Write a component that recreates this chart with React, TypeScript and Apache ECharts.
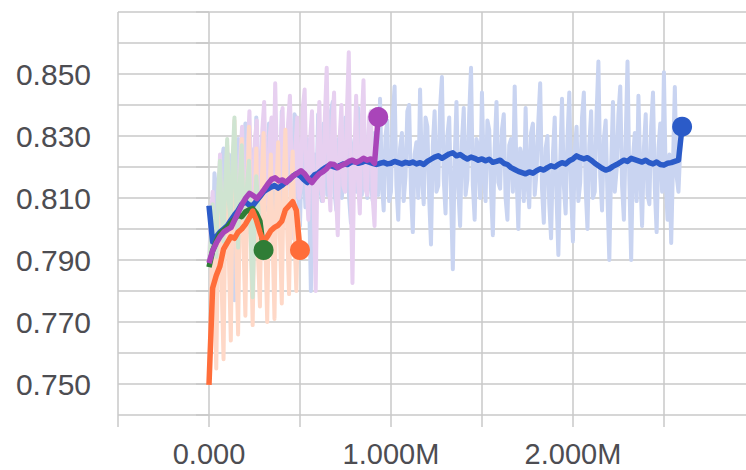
import React, { useEffect, useRef } from "react";
import * as echarts from "echarts";

// ---- data (steps evenly spaced from 0 to the last logged step) ----
const blueLastStep = 2600000;
const purpleLastStep = 930000;
const orangeLastStep = 500000;
const greenLastStep = 300000;

const blueSmooth = [
  0.8075, 0.7958, 0.7975, 0.799, 0.8, 0.801, 0.8028, 0.8045, 0.806, 0.808,
  0.8088, 0.8078, 0.8075, 0.809, 0.8105, 0.812, 0.8128, 0.8135, 0.814, 0.8132,
  0.814, 0.815, 0.8158, 0.817, 0.8178, 0.8172, 0.816, 0.815, 0.8162, 0.8175,
  0.818, 0.819, 0.8198, 0.8205, 0.8202, 0.8198, 0.8205, 0.821, 0.8208, 0.8215,
  0.8218, 0.8212, 0.8215, 0.822, 0.8216, 0.8212, 0.8208, 0.8212, 0.8215, 0.821,
  0.8212, 0.8218, 0.8214, 0.821, 0.8215, 0.8212, 0.8216, 0.821, 0.8214, 0.8208,
  0.8218, 0.8225, 0.8232, 0.8236, 0.8228, 0.8235, 0.8242, 0.8246, 0.8236, 0.824,
  0.8232, 0.8226, 0.8232, 0.8228, 0.8222, 0.8226, 0.822, 0.8225, 0.8215, 0.8218,
  0.8222, 0.8212, 0.8208, 0.8198, 0.8192, 0.8186, 0.8182, 0.8178, 0.8184, 0.818,
  0.8188, 0.8194, 0.819, 0.8198, 0.8204, 0.82, 0.8208, 0.8214, 0.821, 0.822,
  0.8226, 0.8236, 0.823, 0.8226, 0.823, 0.8222, 0.8212, 0.8204, 0.8196, 0.819,
  0.8194, 0.8202, 0.8208, 0.8215, 0.8222, 0.8218, 0.8228, 0.8224, 0.822, 0.8216,
  0.8222, 0.8214, 0.821, 0.8216, 0.8208, 0.8206, 0.8212, 0.8214, 0.8218, 0.8222,
  0.833,
];

const blueRaw = [
  0.8077, 0.801, 0.786, 0.818, 0.812, 0.793, 0.795, 0.821, 0.826, 0.799, 0.803, 0.824, 0.818, 0.796, 0.777, 0.815, 0.829, 0.802, 0.806, 0.827,
  0.834, 0.811, 0.799, 0.826, 0.821, 0.808, 0.836, 0.815, 0.804, 0.83, 0.825, 0.806, 0.809, 0.834, 0.831, 0.81, 0.797, 0.825, 0.822, 0.806,
  0.838, 0.813, 0.806, 0.832, 0.827, 0.809, 0.812, 0.837, 0.835, 0.81, 0.801, 0.826, 0.819, 0.807, 0.829, 0.812, 0.78, 0.818, 0.824, 0.81,
  0.837, 0.814, 0.809, 0.834, 0.83, 0.811, 0.815, 0.838, 0.841, 0.812, 0.806, 0.829, 0.826, 0.81, 0.818, 0.836, 0.833, 0.81, 0.802, 0.825,
  0.829, 0.812, 0.839, 0.816, 0.811, 0.835, 0.825, 0.81, 0.834, 0.814, 0.809, 0.831, 0.828, 0.811, 0.842, 0.815, 0.806, 0.83, 0.835, 0.809,
  0.812, 0.836, 0.846, 0.814, 0.803, 0.826, 0.831, 0.809, 0.817, 0.838, 0.84, 0.812, 0.799, 0.824, 0.828, 0.81, 0.845, 0.817, 0.808, 0.836,
  0.833, 0.81, 0.795, 0.827, 0.838, 0.812, 0.814, 0.839, 0.849, 0.816, 0.805, 0.83, 0.836, 0.811, 0.787, 0.822, 0.841, 0.813, 0.801, 0.828,
  0.839, 0.811, 0.816, 0.837, 0.852, 0.814, 0.803, 0.829, 0.826, 0.81, 0.844, 0.818, 0.809, 0.835, 0.832, 0.812, 0.798, 0.826, 0.841, 0.815,
  0.813, 0.832, 0.837, 0.81, 0.803, 0.827, 0.829, 0.812, 0.846, 0.818, 0.8, 0.826, 0.823, 0.809, 0.839, 0.815, 0.807, 0.831, 0.834, 0.811,
  0.818, 0.835, 0.847, 0.813, 0.802, 0.826, 0.83, 0.808, 0.797, 0.824, 0.836, 0.81, 0.7916, 0.821, 0.842, 0.814, 0.805, 0.829, 0.844, 0.812,
  0.796, 0.825, 0.833, 0.809, 0.815, 0.836, 0.844, 0.813, 0.8, 0.827, 0.838, 0.81, 0.812, 0.837, 0.854, 0.817, 0.806, 0.829, 0.835, 0.81,
  0.79, 0.82, 0.841, 0.812, 0.819, 0.837, 0.846, 0.814, 0.803, 0.829, 0.854, 0.816, 0.79, 0.823, 0.831, 0.809, 0.843, 0.818, 0.801, 0.826,
  0.837, 0.811, 0.808, 0.833, 0.844, 0.813, 0.799, 0.826, 0.834, 0.812, 0.8506, 0.816, 0.803, 0.824, 0.7955, 0.821, 0.8458, 0.817, 0.812, 0.826,
  0.833,
];

const purpleSmooth = [
  0.789, 0.793, 0.7955, 0.7975, 0.799, 0.7998, 0.8005, 0.803, 0.8055, 0.808,
  0.81, 0.8115, 0.8108, 0.8098, 0.8112, 0.8128, 0.8145, 0.816, 0.8165, 0.8155,
  0.8158, 0.815, 0.8162, 0.8172, 0.818, 0.8188, 0.8178, 0.8162, 0.815, 0.8165,
  0.8178, 0.8185, 0.8195, 0.821, 0.8208, 0.8198, 0.8205, 0.821, 0.8218, 0.8222,
  0.8215, 0.822, 0.8228, 0.8222, 0.8226, 0.8212, 0.8361,
];

const purpleRaw = [
  0.789, 0.803, 0.812, 0.794, 0.783, 0.806, 0.824, 0.801, 0.795, 0.815, 0.819, 0.797, 0.79, 0.818, 0.828, 0.805, 0.801, 0.823, 0.833, 0.808,
  0.797, 0.826, 0.838, 0.811, 0.804, 0.829, 0.835, 0.81, 0.799, 0.832, 0.841, 0.814, 0.808, 0.83, 0.836, 0.816, 0.847, 0.819, 0.802, 0.828,
  0.839, 0.815, 0.811, 0.834, 0.843, 0.818, 0.797, 0.827, 0.836, 0.81, 0.814, 0.839, 0.845, 0.815, 0.803, 0.829, 0.838, 0.806, 0.78, 0.822,
  0.841, 0.813, 0.809, 0.836, 0.852, 0.817, 0.806, 0.833, 0.844, 0.812, 0.798, 0.829, 0.84, 0.814, 0.812, 0.838, 0.857, 0.815, 0.7826, 0.823,
  0.843, 0.816, 0.805, 0.834, 0.848, 0.813, 0.811, 0.836, 0.838, 0.81, 0.801, 0.828, 0.8361,
];

const orangeSmooth = [
  0.7497, 0.781, 0.785, 0.788, 0.7935, 0.7955, 0.7975, 0.797, 0.799, 0.8,
  0.8015, 0.8035, 0.8058, 0.803, 0.799, 0.7958, 0.7975, 0.7995, 0.8005, 0.8012,
  0.8025, 0.8062, 0.8075, 0.8088, 0.806, 0.7932,
];

const orangeRaw = [
  0.7497, 0.772, 0.806, 0.779, 0.755, 0.797, 0.818, 0.781, 0.758, 0.806, 0.827, 0.789, 0.764, 0.812, 0.835, 0.792, 0.766, 0.809, 0.829, 0.794,
  0.772, 0.811, 0.833, 0.796, 0.769, 0.805, 0.826, 0.79, 0.775, 0.815, 0.831, 0.793, 0.77, 0.808, 0.824, 0.795, 0.771, 0.812, 0.828, 0.797,
  0.776, 0.814, 0.832, 0.799, 0.779, 0.811, 0.825, 0.798, 0.78, 0.806, 0.7932,
];

const greenSmooth = [
  0.7877, 0.793, 0.796, 0.7985, 0.7995, 0.8005, 0.802, 0.8032, 0.8045, 0.804,
  0.8055, 0.8062, 0.8066, 0.805, 0.8025, 0.7932,
];

const greenRaw = [
  0.7877, 0.798, 0.808, 0.797, 0.791, 0.812, 0.822, 0.805, 0.796, 0.815,
  0.829, 0.808, 0.801, 0.823, 0.836, 0.806, 0.794, 0.816, 0.827, 0.805,
  0.803, 0.815, 0.822, 0.797, 0.778, 0.802, 0.817, 0.808, 0.799, 0.801,
  0.7932,
];

const yTickLabels = ["0.750", "0.770", "0.790", "0.810", "0.830", "0.850"];
const xLabelSteps = [0, 1000000, 2000000];
const xLabelTexts = ["0.000", "1.000M", "2.000M"];

// ---- styles ----
const BLUE = "#2b5bc8";
const PURPLE = "#a945b9";
const ORANGE = "#ff6d3a";
const GREEN = "#2f7d36";
const BLUE_RAW = "#c9d4f1";
const PURPLE_RAW = "#e7d0f0";
const ORANGE_RAW = "#fed8c7";
const GREEN_RAW = "#cfe4d1";
const GRID = "#c9c9c9";
const TEXT = "#4d4d52";

function withSteps(values: number[], lastStep: number) {
  const n = values.length;
  return values.map((v, i) => [Math.round((i * lastStep) / (n - 1)), v]);
}

function lineSeries(data: number[][], color: string, width: number) {
  return {
    type: "line",
    data,
    showSymbol: false,
    symbol: "none",
    silent: true,
    lineStyle: { color, width, join: "round", cap: "butt" },
    itemStyle: { color },
  };
}

function dotSeries(point: number[], color: string) {
  return {
    type: "scatter",
    symbol: "circle",
    symbolSize: 20,
    silent: true,
    clip: false,
    z: 5,
    data: [point],
    itemStyle: { color, opacity: 1, borderWidth: 0 },
  };
}

export default function App() {
  const ref = useRef<HTMLDivElement>(null);
  useEffect(() => {
    const chart = echarts.init(ref.current!, null, { renderer: "svg" });
    const blueS = withSteps(blueSmooth, blueLastStep);
    const purpleS = withSteps(purpleSmooth, purpleLastStep);
    const orangeS = withSteps(orangeSmooth, orangeLastStep);
    const greenS = withSteps(greenSmooth, greenLastStep);
    const last = (d: number[][]) => d[d.length - 1].slice();
    chart.setOption({
      animation: false,
      textStyle: { fontFamily: "Liberation Sans" },
      grid: { left: 118, top: 12, width: 646, height: 403 },
      xAxis: {
        type: "value",
        min: -500000,
        max: 3050000,
        interval: 500000,
        axisLine: { show: false },
        axisTick: { show: true, length: 12, lineStyle: { color: GRID, width: 1.5 } },
        splitLine: { show: true, lineStyle: { color: GRID, width: 1.5 } },
        axisLabel: {
          margin: 24,
          fontSize: 29,
          color: TEXT,
          fontFamily: "Liberation Sans",
          formatter: (v: number) => {
            const k = xLabelSteps.indexOf(Math.round(v));
            return k >= 0 ? xLabelTexts[k] : "";
          },
        },
      },
      yAxis: {
        type: "value",
        min: 0.74,
        max: 0.87,
        interval: 0.01,
        axisLine: { show: false },
        axisTick: { show: true, length: 13, lineStyle: { color: GRID, width: 1.5 } },
        splitLine: { show: true, lineStyle: { color: GRID, width: 1.5 } },
        axisLabel: {
          margin: 27,
          fontSize: 30,
          color: TEXT,
          fontFamily: "Liberation Sans",
          formatter: (v: number) => {
            const s = v.toFixed(3);
            return yTickLabels.includes(s) ? s : "";
          },
        },
      },
      series: [
        lineSeries(withSteps(blueRaw, blueLastStep), BLUE_RAW, 4),
        lineSeries(withSteps(purpleRaw, purpleLastStep), PURPLE_RAW, 4),
        lineSeries(withSteps(orangeRaw, orangeLastStep), ORANGE_RAW, 4),
        lineSeries(withSteps(greenRaw, greenLastStep), GREEN_RAW, 4),
        lineSeries(blueS, BLUE, 5.5),
        lineSeries(greenS, GREEN, 5.5),
        lineSeries(orangeS, ORANGE, 5.5),
        lineSeries(purpleS, PURPLE, 5.5),
        dotSeries(last(greenS), GREEN),
        dotSeries(last(orangeS), ORANGE),
        dotSeries(last(blueS), BLUE),
        dotSeries(last(purpleS), PURPLE),
      ],
    });
    return () => chart.dispose();
  }, []);
  return (
    <div
      style={{
        position: "absolute",
        left: 0,
        top: 0,
        width: 746,
        height: 470,
        overflow: "hidden",
      }}
    >
      <div ref={ref} style={{ width: 800, height: 470 }} />
    </div>
  );
}
